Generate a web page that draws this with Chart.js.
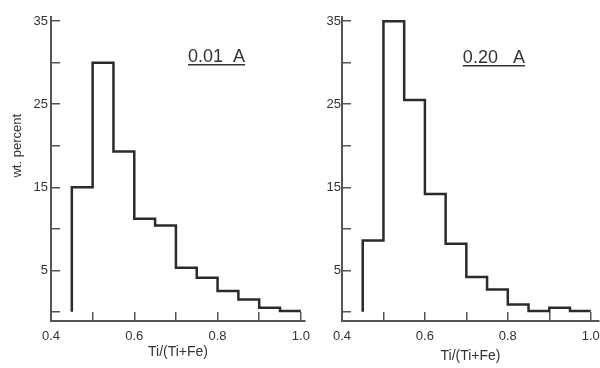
<!DOCTYPE html>
<html>
<head>
<meta charset="utf-8">
<script src="https://cdn.jsdelivr.net/npm/chart.js@4"></script>
<style>
  body { margin: 0; background: #fff; }
  #wrap { position: relative; width: 600px; height: 368px; }
  canvas { position: absolute; top: 0; }
  #leftChart { left: 0; }
  #rightChart { left: 310px; }
</style>
</head>
<body>
<div id="wrap">
  <canvas id="leftChart" width="310" height="368"></canvas>
  <canvas id="rightChart" width="290" height="368"></canvas>
</div>
<script>
// bin edges of Ti/(Ti+Fe)
const binEdges = [0.45, 0.50, 0.55, 0.60, 0.65, 0.70, 0.75, 0.80, 0.85, 0.90, 0.95, 1.00];
// wt. percent per bin
const pct001 = [15, 30, 19.3, 11.2, 10.4, 5.3, 4.1, 2.5, 1.5, 0.5, 0.1];
const pct020 = [8.6, 35, 25.5, 14.2, 8.2, 4.2, 2.7, 0.9, 0.1, 0.5, 0.1];

const xTicks = [0.4, 0.5, 0.6, 0.7, 0.8, 0.9, 1.0];
const xTickLabels = ["0.4", "", "0.6", "", "0.8", "", "1.0"];
const yTicks = [0, 5, 10, 15, 20, 25, 30, 35];
const yTickLabels = ["", "5", "", "15", "", "25", "", "35"];

const FONT = '"Liberation Sans", Arial, sans-serif';
const INK = "#333";

// outline of a histogram as a list of points
function stepPoints(values) {
    let pts = [{ x: binEdges[0], y: 0 }];
    values.forEach(function (v, i) {
        pts.push({ x: binEdges[i], y: v });
        pts.push({ x: binEdges[i + 1], y: v });
    });
    return pts;
}

// panel label + y title
const notesPlugin = {
    id: "notes",
    afterDraw(chart, args, o) {
        const ctx = chart.ctx;
        const xs = chart.scales.x, ys = chart.scales.y;
        ctx.save();
        ctx.fillStyle = INK;
        ctx.strokeStyle = INK;
        ctx.font = "18px " + FONT;
        ctx.textAlign = "left";
        ctx.textBaseline = "alphabetic";
        const px = xs.getPixelForValue(o.x), py = ys.getPixelForValue(o.y);
        ctx.fillText(o.text, px, py);
        const w = ctx.measureText(o.text).width;
        ctx.lineWidth = 1.5;
        ctx.beginPath();
        ctx.moveTo(px, py + 3);
        ctx.lineTo(px + w, py + 3);
        ctx.stroke();
        if (o.yTitle) {
            ctx.translate(17, ys.getPixelForValue(20));
            ctx.rotate(-Math.PI / 2);
            ctx.textAlign = "center";
            ctx.textBaseline = "middle";
            ctx.font = "13px " + FONT;
            ctx.fillText(o.yTitle, 0, 0);
        }
        ctx.restore();
    }
};

function makeChart(id, values, cfg) {
    const ctx = document.getElementById(id).getContext("2d");
    return new Chart(ctx, {
        type: "line",
        data: {
            datasets: [{
                data: stepPoints(values),
                borderColor: "#2b2b2b",
                borderWidth: 2.5,
                borderJoinStyle: "miter",
                pointRadius: 0,
                tension: 0,
                fill: false
            }]
        },
        options: {
            responsive: false,
            animation: false,
            layout: { padding: { top: 17, right: cfg.padRight, left: 0, bottom: 0 } },
            plugins: {
                legend: { display: false },
                tooltip: { enabled: false },
                notes: cfg.notes
            },
            scales: {
                x: {
                    type: "linear",
                    min: 0.4,
                    max: cfg.xMax,
                    afterBuildTicks: function (s) { s.ticks = xTicks.map(v => ({ value: v })); },
                    afterFit: function (s) { s.height = 47; s.paddingLeft = 0; s.paddingRight = 0; },
                    ticks: {
                        autoSkip: false,
                        maxRotation: 0,
                        padding: 17,
                        color: INK,
                        font: { family: FONT, size: 13 },
                        callback: function (v) {
                            const i = xTicks.findIndex(t => Math.abs(t - v) < 1e-6);
                            return i >= 0 ? xTickLabels[i] : "";
                        }
                    },
                    grid: { drawOnChartArea: false, drawTicks: true, tickLength: -9, color: "#555", lineWidth: 1.5 },
                    border: { color: "#555", width: 2 },
                    title: {
                        display: true,
                        text: "Ti/(Ti+Fe)",
                        color: INK,
                        font: { family: FONT, size: 14 },
                        padding: { top: 0, bottom: cfg.titlePad }
                    }
                },
                y: {
                    min: -1.1,
                    max: 35.5,
                    afterBuildTicks: function (s) { s.ticks = yTicks.map(v => ({ value: v })); },
                    afterFit: function (s) { s.width = cfg.yWidth; s.paddingTop = 0; s.paddingBottom = 0; },
                    ticks: {
                        padding: cfg.yPad,
                        color: INK,
                        font: { family: FONT, size: 13 },
                        callback: function (v) {
                            const i = yTicks.indexOf(v);
                            return i >= 0 ? yTickLabels[i] : "";
                        }
                    },
                    grid: { drawOnChartArea: false, drawTicks: true, tickLength: -9, color: "#555", lineWidth: 1.5 },
                    border: { color: "#555", width: 2 }
                }
            }
        },
        plugins: [notesPlugin]
    });
}

makeChart("leftChart", pct001, {
    padRight: 5, xMax: 1.01, yWidth: 51, yPad: 12, titlePad: 7,
    notes: { text: "0.01  A", x: 0.729, y: 30.1, yTitle: "wt. percent" }
});
makeChart("rightChart", pct020, {
    padRight: 1, xMax: 1.02, yWidth: 32, yPad: 10, titlePad: 3,
    notes: { text: "0.20   A", x: 0.6916, y: 30.0 }
});
</script>
</body>
</html>
